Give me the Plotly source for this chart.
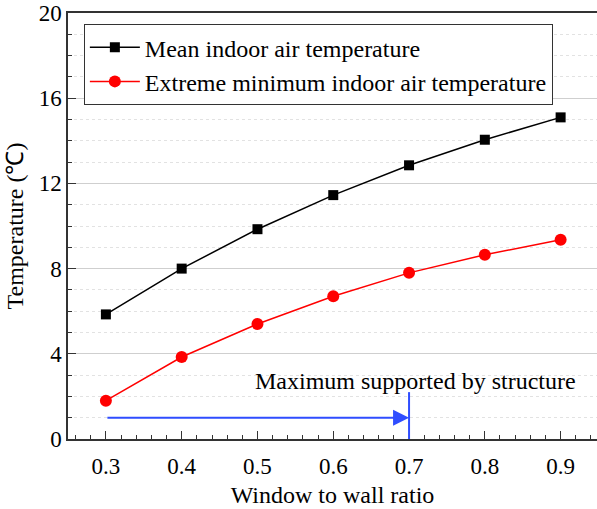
import plotly.graph_objects as go

wwr = [0.3, 0.4, 0.5, 0.6, 0.7, 0.8, 0.9]
mean_temp = [5.85, 8.0, 9.85, 11.45, 12.85, 14.05, 15.1]
min_temp = [1.8, 3.85, 5.4, 6.7, 7.8, 8.65, 9.35]
x_ticks = [0.3, 0.4, 0.5, 0.6, 0.7, 0.8, 0.9]
y_ticks = [0, 4, 8, 12, 16, 20]
arrow_start = 0.3
arrow_end = 0.7
arrow_y = 1.0
limit_top = 2.2
label_y = 2.72
label_x = 0.709

FONT = "Liberation Serif"
BLUE = "#2f4dff"

fig = go.Figure()
fig.add_trace(go.Scatter(x=wwr, y=mean_temp, mode="lines+markers",
                         name="Mean indoor air temperature",
                         line=dict(color="black", width=1.5),
                         marker=dict(symbol="square", size=10, color="black")))
fig.add_trace(go.Scatter(x=wwr, y=min_temp, mode="lines+markers",
                         name="Extreme minimum indoor air temperature",
                         line=dict(color="#ff0000", width=1.5),
                         marker=dict(symbol="circle", size=12, color="#ff0000")))

fig.add_shape(type="line", xref="x", yref="y", x0=arrow_end, x1=arrow_end, y0=0, y1=limit_top,
              line=dict(color=BLUE, width=2))
fig.add_annotation(x=arrow_end, y=arrow_y, ax=arrow_start, ay=arrow_y, xref="x", yref="y",
                   axref="x", ayref="y", showarrow=True, arrowhead=2, arrowsize=1.6,
                   arrowwidth=2, arrowcolor=BLUE, text="")
fig.add_annotation(x=label_x, y=label_y, xref="x", yref="y", showarrow=False,
                   text="Maximum supported by structure",
                   font=dict(family=FONT, size=24, color="black"))

fig.update_layout(
    width=597, height=509,
    margin=dict(l=68, r=0, t=13, b=70),
    paper_bgcolor="white", plot_bgcolor="white",
    font=dict(family=FONT, size=23, color="black"),
    showlegend=True,
    legend=dict(x=0.03, y=0.974, xanchor="left", yanchor="top",
                bordercolor="#333", borderwidth=1, bgcolor="white",
                font=dict(family=FONT, size=24), itemwidth=50, tracegroupgap=0),
    xaxis=dict(range=[0.25, 0.948], tickvals=x_ticks, ticktext=[f"{v:.1f}" for v in x_ticks],
               showline=True, linecolor="#333", linewidth=1.5, mirror=True, automargin=False,
               ticks="inside", ticklen=8, tickcolor="#333", showgrid=False, zeroline=False,
               ticklabelstandoff=6,
               minor=dict(dtick=0.02, tick0=0.3, ticks="inside", ticklen=4, tickcolor="#333"),
               title=dict(text="Window to wall ratio", font=dict(family=FONT, size=24), standoff=8),
               tickfont=dict(family=FONT, size=23)),
    yaxis=dict(range=[0, 20], tickvals=y_ticks,
               showline=True, linecolor="#333", linewidth=1.5, mirror=True, automargin=False,
               ticks="inside", ticklen=8, tickcolor="#333", ticklabeloverflow="allow",
               showgrid=True, gridcolor="#cfcfcf", gridwidth=1, zeroline=False,
               minor=dict(dtick=1, ticks="inside", ticklen=4, tickcolor="#333",
                          showgrid=True, gridcolor="#e2e2e2", griddash="dot", gridwidth=1),
               title=dict(text="Temperature (℃)", font=dict(family=FONT, size=24), standoff=8),
               tickfont=dict(family=FONT, size=23)),
)

fig.write_html("out.html", config={"displayModeBar": False},
               post_script="document.body.style.margin='0';")
